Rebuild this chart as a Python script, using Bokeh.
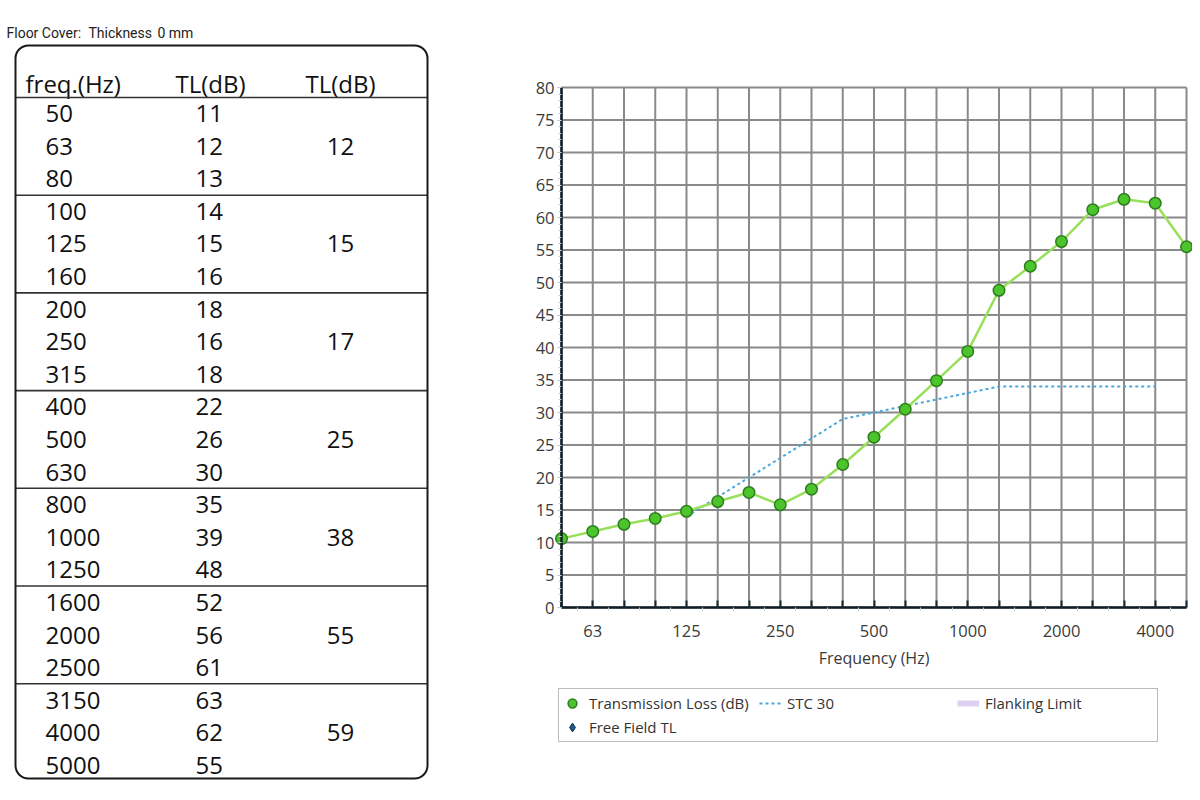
from bokeh.plotting import figure
from bokeh.models import (Range1d, FixedTicker, BoxAnnotation, Legend, LegendItem,
                          LinearAxis)
from bokeh.core.properties import value
from bokeh.embed import file_html
from bokeh.resources import INLINE

NaN = float("nan")

# ---------------- data ----------------
freq_labels = ["50", "63", "80", "100", "125", "160", "200", "250", "315", "400", "500",
               "630", "800", "1000", "1250", "1600", "2000", "2500", "3150", "4000", "5000"]
tl_table = [11, 12, 13, 14, 15, 16, 18, 16, 18, 22, 26, 30, 35, 39, 48, 52, 56, 61, 63, 62, 55]
tl_octave = [12, 15, 17, 25, 38, 55, 59]
tl_curve = [10.6, 11.7, 12.8, 13.7, 14.8, 16.3, 17.7, 15.8, 18.2, 22.0, 26.2, 30.5, 34.9,
            39.4, 48.8, 52.5, 56.3, 61.2, 62.8, 62.2, 55.5]
stc_freqs = ["125", "160", "200", "250", "315", "400", "500", "630", "800", "1000", "1250",
             "1600", "2000", "2500", "3150", "4000"]
stc_values = [14, 17, 20, 23, 26, 29, 30, 31, 32, 33, 34, 34, 34, 34, 34, 34]
flanking_values = [NaN]      # series listed in the legend only, nothing plotted
free_field_values = [NaN]    # series listed in the legend only, nothing plotted
x_tick_labels = ["63", "125", "250", "500", "1000", "2000", "4000"]
y_ticks = list(range(0, 81, 5))
header_labels = ["freq.(Hz)", "TL(dB)", "TL(dB)"]
title_parts = ["Floor Cover:", "Thickness", "0 mm"]

FONT = "Open Sans"

# ---------------- one figure for the whole page ----------------
W, H = 1192, 792
n = len(freq_labels)
X0, X1, Y0, Y1 = 561, 1186, 607, 87          # chart area in page pixels
ppx = (X1 - X0) / (n - 1)
ppy = (Y0 - Y1) / 80.0

p = figure(width=W, height=H,
           x_range=Range1d(-X0 / ppx, (n - 1) + (W - X1) / ppx),
           y_range=Range1d(-(H - Y0) / ppy, 80 + Y1 / ppy),
           x_axis_type=None, y_axis_type=None, output_backend="svg",
           toolbar_location=None, min_border=0, outline_line_color=None)
p.extra_x_ranges = {"px": Range1d(0, W)}
p.extra_y_ranges = {"py": Range1d(0, H)}


def Y(sy):
    return H - sy


TXT = dict(x_range_name="px", y_range_name="py")

# ---------------- table (left) ----------------
p.add_layout(BoxAnnotation(left=15, right=427, top=Y(45), bottom=Y(778),
                           fill_alpha=0, line_color="#1a1a1a", line_alpha=1, line_width=2,
                           border_radius=13, **TXT))

p.text(x=[6, 88, 157], y=[Y(32)] * 3, text=title_parts, text_baseline="middle",
       text_align="left", text_font_size="14px", text_font=value("Roboto"),
       text_color="#222", **TXT)

p.text(x=[25, 175, 305], y=[Y(83)] * 3, text=header_labels, text_baseline="middle",
       text_align="left", text_font_size="24px", text_font=value(FONT), text_color="#111",
       **TXT)

row_y = [Y(113 + i * 32.6) for i in range(n)]
p.text(x=[45] * n, y=row_y, text=freq_labels, text_baseline="middle", text_align="left",
       text_font_size="24px", text_font=value(FONT), text_color="#111", **TXT)
p.text(x=[195] * n, y=row_y, text=[str(v) for v in tl_table], text_baseline="middle",
       text_align="left", text_font_size="24px", text_font=value(FONT), text_color="#111",
       **TXT)

ng = len(tl_octave)
p.text(x=[340] * ng, y=[row_y[3 * g + 1] for g in range(ng)],
       text=[str(v) for v in tl_octave], text_baseline="middle", text_align="center",
       text_font_size="24px", text_font=value(FONT), text_color="#111", **TXT)

line_ys = [Y(97 + k * 97.7) for k in range(ng)]
p.segment(x0=[15] * ng, y0=line_ys, x1=[427] * ng, y1=line_ys, line_color="#333",
          line_width=1.6, **TXT)

# ---------------- chart (right) ----------------
x_idx = list(range(n))
stc_x = [freq_labels.index(f) for f in stc_freqs]
GRID = dict(line_color="#8a8a8a", line_width=2)

# grid
p.segment(x0=x_idx, y0=[0] * n, x1=x_idx, y1=[80] * n, **GRID)
p.segment(x0=[0] * len(y_ticks), y0=y_ticks, x1=[n - 1] * len(y_ticks), y1=y_ticks, **GRID)

# axes
xaxis = LinearAxis(ticker=FixedTicker(ticks=x_idx, minor_ticks=[i + 0.5 for i in x_idx[:-1]]),
                   fixed_location=0, bounds=(0, n - 1))
xaxis.major_label_overrides = {i: (lab if lab in x_tick_labels else "")
                               for i, lab in enumerate(freq_labels)}
yaxis = LinearAxis(ticker=FixedTicker(ticks=y_ticks, minor_ticks=list(range(0, 81))),
                   fixed_location=0, bounds=(0, 80))

for ax in (xaxis, yaxis):
    ax.axis_line_color = "#0f1e26"
    ax.axis_line_width = 2.5
    ax.major_label_text_font = FONT
    ax.major_label_text_font_size = "16.5px"
    ax.major_label_text_color = "#3a3a3a"
    ax.minor_tick_in = 0
    ax.minor_tick_out = 3
    ax.minor_tick_line_color = "#c4ccd4"

yaxis.major_tick_in = 0
yaxis.major_tick_out = 4
yaxis.major_tick_line_color = "#b0b8c0"
yaxis.major_label_standoff = 3

xaxis.major_tick_in = 7
xaxis.major_tick_out = 0
xaxis.major_tick_line_color = "#1a2a33"
xaxis.major_tick_line_width = 2
xaxis.major_label_standoff = 14
xaxis.axis_label = "Frequency (Hz)"
xaxis.axis_label_text_font = FONT
xaxis.axis_label_text_font_size = "16px"
xaxis.axis_label_text_font_style = "normal"
xaxis.axis_label_text_color = "#3a3a3a"
xaxis.axis_label_standoff = 7

# series
stc = p.line(stc_x, stc_values, line_color="#4aa8dc", line_width=2, line_dash="3 3")
tl_line = p.line(x_idx, tl_curve, line_color="#98e05a", line_width=2.5)
tl_pts = p.scatter(x_idx, tl_curve, marker="circle", size=11.5, fill_color="#4cc42c",
                   line_color="#2d7d1e", line_width=1.5)
flank = p.line(x_idx[:1], flanking_values, line_color="#ddd0f2", line_width=6)
free = p.scatter(x_idx[:1], free_field_values, marker="diamond", size=12,
                 fill_color="#1f5a8a", line_color="#0e2c48", line_width=1)

p.add_layout(xaxis, "below")
p.add_layout(yaxis, "left")

legend = Legend(items=[LegendItem(label="Transmission Loss (dB)", renderers=[tl_pts]),
                       LegendItem(label="STC 30", renderers=[stc]),
                       LegendItem(label="Flanking Limit", renderers=[flank]),
                       LegendItem(label="Free Field TL", renderers=[free])],
                location=(558, H - 742), orientation="horizontal", ncols=3,
                glyph_width=22, glyph_height=24, label_height=24, label_width=170,
                label_standoff=6, spacing=0, padding=2, margin=0,
                label_text_font=FONT, label_text_font_size="15px", label_text_color="#333333",
                border_line_color="#777777", border_line_width=1.5,
                background_fill_color="white", background_fill_alpha=1)
p.add_layout(legend)

open("out.html", "w").write(file_html(p, INLINE))
